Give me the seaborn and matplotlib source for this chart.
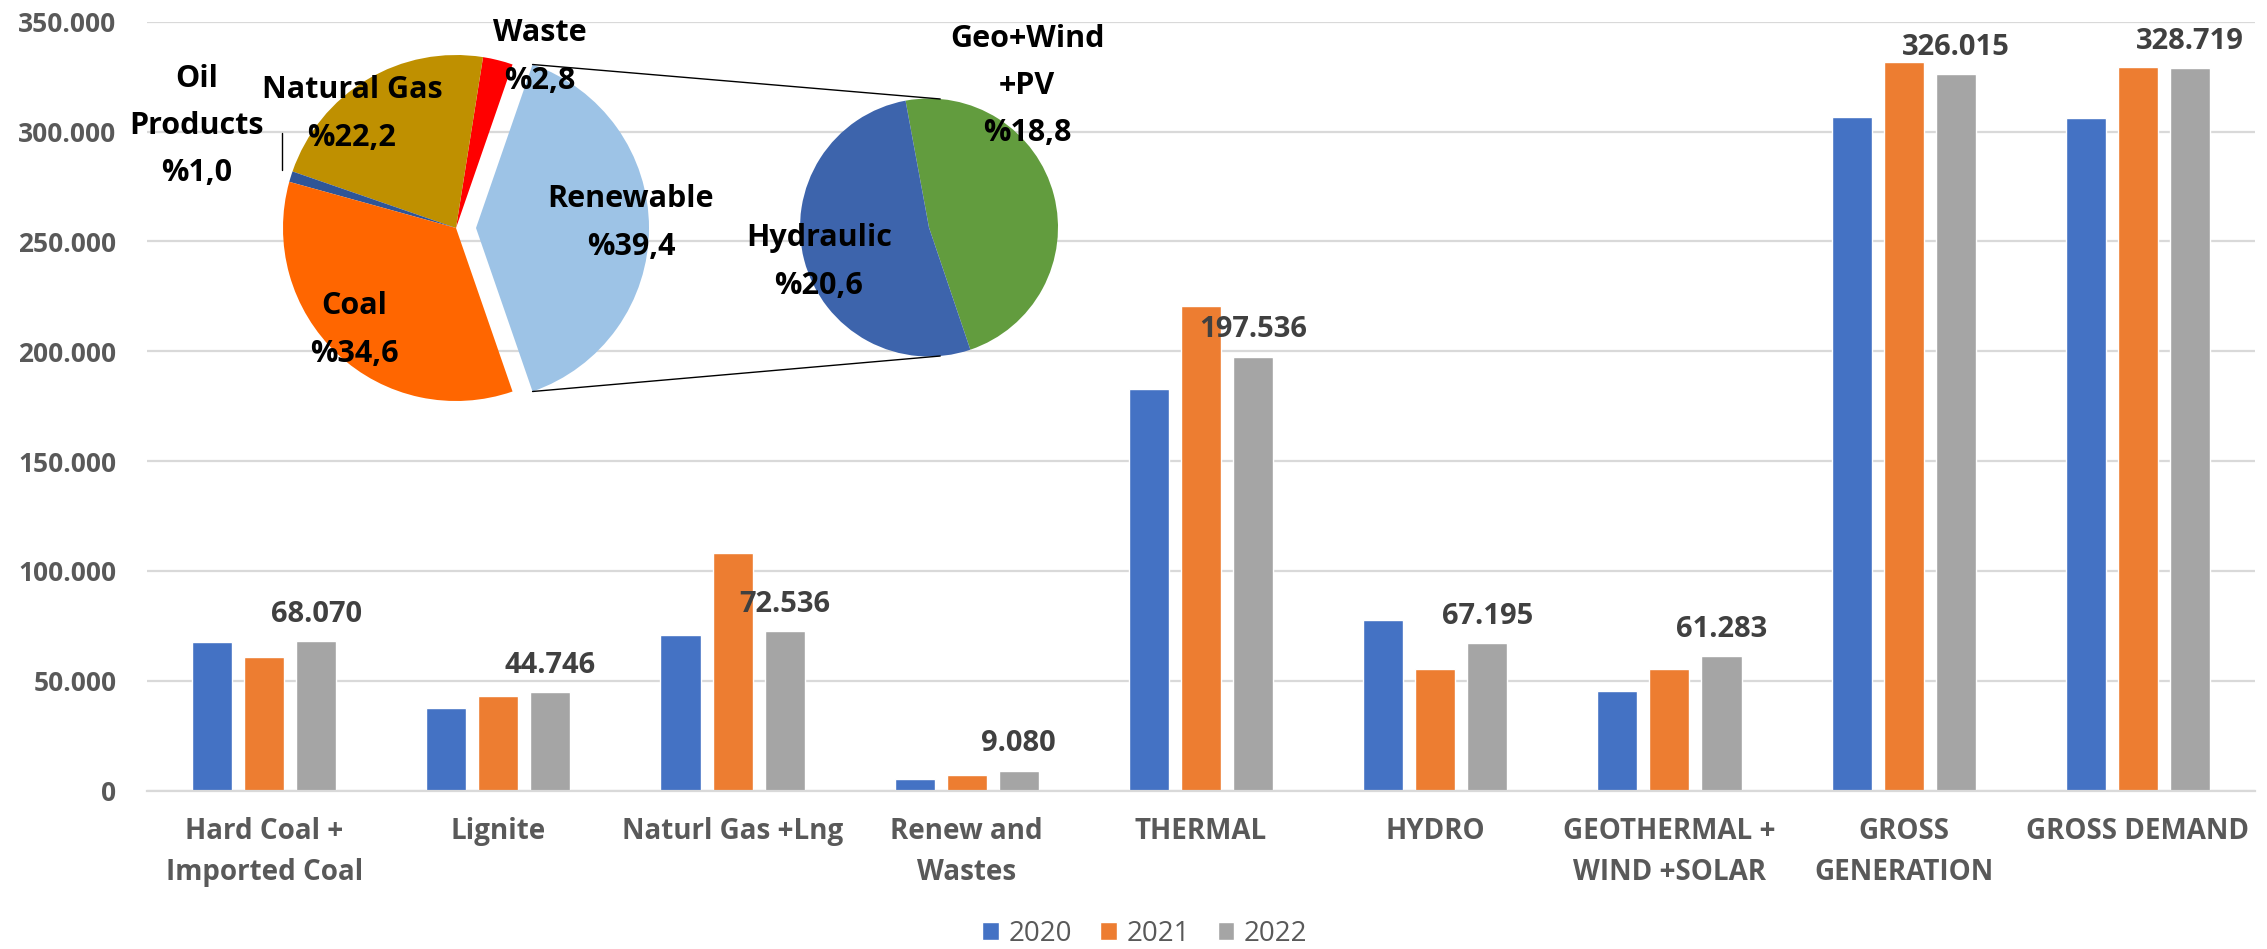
import numpy as np
import pandas as pd
import seaborn as sns
import matplotlib.pyplot as plt
from matplotlib import font_manager
from matplotlib.ticker import FuncFormatter

# bar chart data (GWh)
categories = ["Hard Coal +\nImported Coal", "Lignite", "Naturl Gas +Lng", "Renew and\nWastes",
              "THERMAL", "HYDRO", "GEOTHERMAL +\nWIND +SOLAR", "GROSS\nGENERATION", "GROSS DEMAND"]
years = ["2020", "2021", "2022"]
gen_2020 = [67600, 37700, 70700, 5300, 182700, 77900, 45500, 306700, 306000]
gen_2021 = [60700, 43100, 108400, 7100, 220600, 55600, 55200, 331500, 329500]
gen_2022 = [68070, 44746, 72536, 9080, 197536, 67195, 61283, 326015, 328719]
y_ticks = [0, 50000, 100000, 150000, 200000, 250000, 300000, 350000]

# pie data (share %)
pie_labels = ["Renewable", "Waste", "Natural Gas", "Oil\nProducts", "Coal"]
pie_shares = [39.4, 2.8, 22.2, 1.0, 34.6]
sub_labels = ["Geo+Wind\n+PV", "Hydraulic"]
sub_shares = [18.8, 20.6]

year_colors = ["#4472C4", "#ED7D31", "#A5A5A5"]
pie_colors = ["#9DC3E6", "#FF0000", "#BF9000", "#2F5597", "#FF6600"]
sub_colors = ["#629C3E", "#3D64AC"]

W, H = 2267, 949


def pick_font(candidates):
    # first family that really has a 700 weight face installed
    for fam in candidates:
        for f in font_manager.fontManager.ttflist:
            w = f.weight if isinstance(f.weight, int) else 400
            if f.name == fam and f.style == "normal" and w == 700:
                return fam
    return "DejaVu Sans"


sns.set_style("white")
main_font = pick_font(["Open Sans", "Noto Sans", "Roboto", "Lato", "Liberation Sans"])
plt.rcParams['font.family'] = [main_font, 'DejaVu Sans']

df = pd.DataFrame({
    "category": categories * 3,
    "year": np.repeat(years, len(categories)),
    "value": gen_2020 + gen_2021 + gen_2022,
})

fig = plt.figure(figsize=(W / 100, H / 100), dpi=100)
ax = fig.add_axes([147 / W, 1 - 790.7 / H, (2255 - 147) / W, (790.7 - 21.7) / H])

sns.barplot(data=df, x="category", y="value", hue="year", palette=year_colors,
            width=0.667, gap=0.23, saturation=1, ax=ax)

ax.set_ylim(0, 350000)
ax.set_xlim(-0.5, len(categories) - 0.5)
ax.set_yticks(y_ticks)
ax.yaxis.set_major_formatter(FuncFormatter(lambda v, p: f"{v:,.0f}".replace(",", ".")))
ax.set_xlabel("")
ax.set_ylabel("")
ax.yaxis.grid(True, color="#D9D9D9", linewidth=1.6)
ax.set_axisbelow(True)
for s in ["top", "right", "left"]:
    ax.spines[s].set_visible(False)
ax.spines["bottom"].set_color("#D9D9D9")
ax.spines["bottom"].set_linewidth(1.6)
ax.tick_params(axis="y", length=0, pad=22, labelsize=19, labelcolor="#595959")
ax.tick_params(axis="x", length=0, pad=19, labelsize=20, labelcolor="#595959")
for lab in ax.get_yticklabels() + ax.get_xticklabels():
    lab.set_fontweight("bold")
for lab in ax.get_xticklabels():
    lab.set_linespacing(1.55)

# value labels on 2022 bars
ax.bar_label(ax.containers[2], labels=[f"{v:,}".replace(",", ".") for v in gen_2022],
             padding=9, fontsize=21, fontweight="bold", color="#404040")

handles, labels = ax.get_legend_handles_labels()
ax.legend(handles, labels, loc="center", bbox_to_anchor=(1145 / W, 1 - 934 / H),
          bbox_transform=fig.transFigure, ncol=3, frameon=False, fontsize=20,
          handlelength=0.6, handleheight=0.6, handletextpad=0.35, columnspacing=1.0,
          labelcolor="#595959")

# pie inset, drawn in pixel coordinates (y up)
axp = fig.add_axes([0, 0, 1, 1], zorder=5)
axp.patch.set_alpha(0)

c1, r1 = (456, H - 228), 173
c2, r2 = (929, H - 227.5), 129
explode = 20  # pie offsets are in data units, here pixels
start1 = -pie_shares[0] / sum(pie_shares) * 180

axp.pie(pie_shares, colors=pie_colors, startangle=start1, counterclock=True,
        explode=[explode, 0, 0, 0, 0], center=c1, radius=r1,
        wedgeprops=dict(linewidth=0))
axp.pie(sub_shares, colors=sub_colors, startangle=-71.3, counterclock=True,
        center=c2, radius=r2, wedgeprops=dict(linewidth=0))

axp.set_xlim(0, W)
axp.set_ylim(0, H)
axp.set_aspect("equal")
axp.axis("off")

# connector lines from exploded slice to the second pie
vx = c1[0] + explode
a1 = np.deg2rad(-start1)
top1 = (vx + r1 * np.cos(a1), c1[1] + r1 * np.sin(a1))
bot1 = (vx + r1 * np.cos(a1), c1[1] - r1 * np.sin(a1))
a2 = np.deg2rad(85)
top2 = (c2[0] + r2 * np.cos(a2), c2[1] + r2 * np.sin(a2))
bot2 = (c2[0] + r2 * np.cos(a2), c2[1] - r2 * np.sin(a2))
axp.plot([top1[0], top2[0]], [top1[1], top2[1]], color="black", lw=1)
axp.plot([bot1[0], bot2[0]], [bot1[1], bot2[1]], color="black", lw=1)

# leader line for the small oil slice
axp.plot([282, 282], [H - 133, H - 170], color="black", lw=1)


def pct(v):
    return "%" + f"{v:.1f}".replace(".", ",")


label_pos = {
    "Renewable": (631, 223),
    "Waste": (540, 57),
    "Natural Gas": (352, 114),
    "Oil\nProducts": (197, 126),
    "Coal": (354, 330),
    "Geo+Wind\n+PV": (1027, 86),
    "Hydraulic": (819, 262),
}
for name, share in list(zip(pie_labels, pie_shares)) + list(zip(sub_labels, sub_shares)):
    x, y = label_pos[name]
    axp.text(x, H - y, f"{name}\n{pct(share)}", ha="center", va="center",
             fontsize=22, fontweight="bold", color="black", linespacing=1.75)

fig.savefig("out.png", dpi=100)
